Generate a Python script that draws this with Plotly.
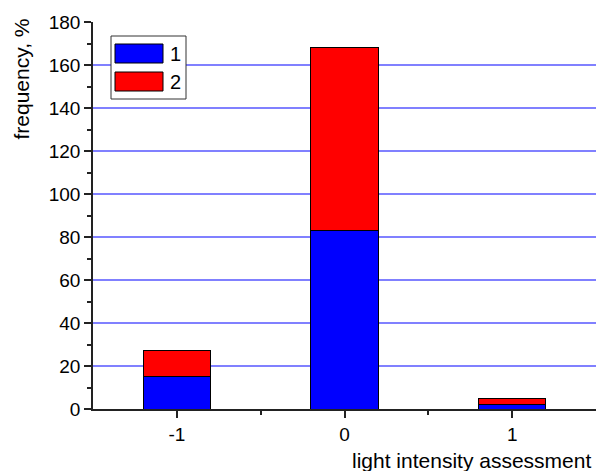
import plotly.graph_objects as go

# light intensity assessment categories and stacked frequencies (%)
categories = [-1, 0, 1]
series_1 = [15, 83, 2]
series_2 = [12, 85, 3]
series_names = ["1", "2"]
series_colors = ["#0000ff", "#ff0000"]
y_ticks = list(range(0, 181, 20))

FONT = "Arial, Liberation Sans, sans-serif"
W, H = 597, 471
L, R, T, B = 93, 1, 22, 62
PW, PH = W - L - R, H - T - B


def px_x(p):
    return (p - L) / PW


def px_y(p):
    return (H - B - p) / PH


fig = go.Figure()
for name, vals, col in zip(series_names, [series_1, series_2], series_colors):
    fig.add_trace(go.Bar(
        x=categories, y=vals, name=name, width=0.4,
        marker=dict(color=col, line=dict(color="black", width=1)),
        showlegend=False,
    ))

# boxed legend with wide swatches
shapes = [dict(type="rect", xref="paper", yref="paper",
               x0=px_x(111), x1=px_x(186), y0=px_y(99), y1=px_y(36),
               line=dict(color="#333333", width=1), fillcolor="white", layer="above")]
annotations = []
for i, (name, col) in enumerate(zip(series_names, series_colors)):
    top = 44 + i * 28
    shapes.append(dict(type="rect", xref="paper", yref="paper",
                       x0=px_x(115), x1=px_x(163), y0=px_y(top + 19), y1=px_y(top),
                       line=dict(color="black", width=1), fillcolor=col, layer="above"))
    annotations.append(dict(text=name, xref="paper", yref="paper",
                            x=px_x(168), y=px_y(top + 9.5), xanchor="left", yanchor="middle",
                            showarrow=False, font=dict(family=FONT, size=20, color="black")))

annotations.append(dict(text="light intensity assessment", xref="paper", yref="paper",
                        x=px_x(593), y=px_y(447), xanchor="right", yanchor="top",
                        showarrow=False, font=dict(family=FONT, size=21, color="black")))
annotations.append(dict(text="frequency, %", xref="paper", yref="paper", textangle=-90,
                        x=px_x(21), y=px_y(17), xanchor="center", yanchor="top",
                        showarrow=False, font=dict(family=FONT, size=21, color="black")))

fig.update_layout(
    width=W, height=H,
    margin=dict(l=L, r=R, t=T, b=B),
    barmode="stack",
    plot_bgcolor="white", paper_bgcolor="white",
    font=dict(family=FONT, size=19, color="black"),
    shapes=shapes, annotations=annotations,
    xaxis=dict(range=[-1.5, 1.5], tickmode="array", tickvals=categories,
               ticktext=[str(c) for c in categories],
               ticks="outside", ticklen=7, tickwidth=1.5, tickcolor="#222",
               showline=True, linecolor="#222", linewidth=1.5,
               showgrid=False, zeroline=False,
               minor=dict(tickmode="array", tickvals=[-0.5, 0.5], ticks="outside",
                          ticklen=4, tickwidth=1.5, tickcolor="#222")),
    yaxis=dict(range=[0, 180], tickmode="array", tickvals=y_ticks,
               ticks="outside", ticklen=7, tickwidth=1.5, tickcolor="#222",
               showline=True, linecolor="#222", linewidth=1.5,
               showgrid=True, gridcolor="#8080ff", gridwidth=1.5, zeroline=False,
               minor=dict(tickmode="array", tickvals=list(range(10, 180, 20)),
                          ticks="outside", ticklen=4, tickwidth=1.5, tickcolor="#222",
                          showgrid=False)),
)

fig.write_html("out.html")
